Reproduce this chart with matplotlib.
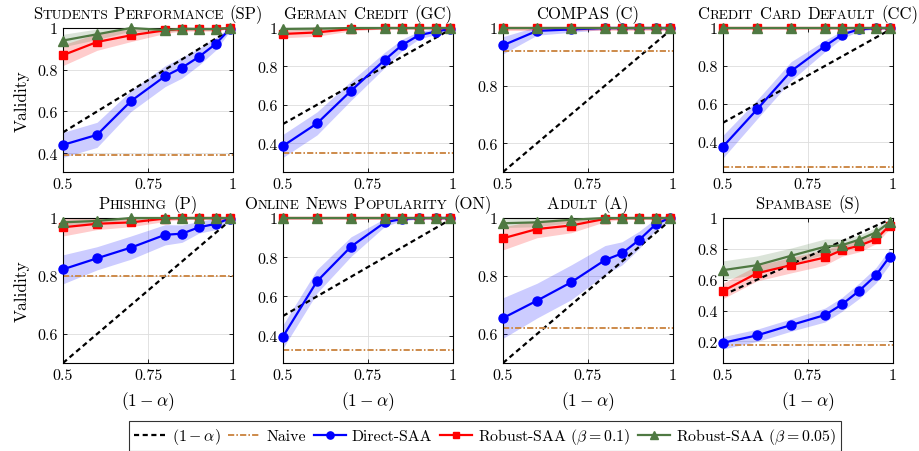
import matplotlib
matplotlib.use("Agg")
import matplotlib.pyplot as plt
from matplotlib import transforms

plt.rcParams['font.family'] = ['cmr10']
plt.rcParams['mathtext.fontset'] = 'cm'
plt.rcParams['axes.unicode_minus'] = False
plt.rcParams['axes.formatter.use_mathtext'] = True

alphas = [0.5, 0.6, 0.7, 0.8, 0.85, 0.9, 0.95, 0.99]
xtick_vals = [0.5, 0.75, 1.0]
xtick_labels = ['0.5', '0.75', '1']

titles = ['Students Performance (SP)', 'German Credit (GC)', 'COMPAS (C)',
          'Credit Card Default (CC)', 'Phishing (P)',
          'Online News Popularity (ON)', 'Adult (A)', 'Spambase (S)']
ymins = [0.31, 0.25, 0.5, 0.24, 0.5, 0.26, 0.5, 0.06]

# mean validity
sp_direct = [0.44, 0.488, 0.65, 0.769, 0.81, 0.862, 0.925, 0.994]
sp_r10 = [0.87, 0.933, 0.965, 0.989, 0.995, 0.995, 0.995, 1.0]
sp_r05 = [0.94, 0.97, 1.0, 0.99, 0.997, 0.995, 0.995, 1.0]
sp_naive = 0.39

gc_direct = [0.386, 0.503, 0.673, 0.835, 0.911, 0.963, 0.981, 0.995]
gc_r10 = [0.969, 0.977, 0.995, 1.0, 1.0, 1.0, 1.0, 1.0]
gc_r05 = [0.995, 0.997, 1.0, 1.0, 1.0, 1.0, 1.0, 1.0]
gc_naive = 0.351

c_direct = [0.94, 0.99, 0.995, 1.0, 1.0, 1.0, 1.0, 1.0]
c_r10 = [1.0, 1.0, 1.0, 1.0, 1.0, 1.0, 1.0, 1.0]
c_r05 = [1.0, 1.0, 1.0, 1.0, 1.0, 1.0, 1.0, 1.0]
c_naive = 0.921

cc_direct = [0.374, 0.57, 0.772, 0.905, 0.965, 0.993, 1.0, 1.0]
cc_r10 = [1.0, 1.0, 1.0, 1.0, 1.0, 1.0, 1.0, 1.0]
cc_r05 = [1.0, 1.0, 1.0, 1.0, 1.0, 1.0, 1.0, 1.0]
cc_naive = 0.269

p_direct = [0.823, 0.861, 0.898, 0.942, 0.946, 0.968, 0.98, 0.998]
p_r10 = [0.968, 0.98, 0.985, 0.998, 1.0, 1.0, 1.0, 1.0]
p_r05 = [0.985, 0.99, 1.0, 1.0, 1.0, 1.0, 1.0, 1.0]
p_naive = 0.8

on_direct = [0.395, 0.677, 0.854, 0.978, 0.995, 1.0, 1.0, 1.0]
on_r10 = [1.0, 1.0, 1.0, 1.0, 1.0, 1.0, 1.0, 1.0]
on_r05 = [1.0, 1.0, 1.0, 1.0, 1.0, 1.0, 1.0, 1.0]
on_naive = 0.327

a_direct = [0.655, 0.715, 0.778, 0.855, 0.878, 0.924, 0.979, 1.0]
a_r10 = [0.93, 0.962, 0.974, 0.997, 1.0, 1.0, 1.0, 1.0]
a_r05 = [0.982, 0.985, 0.994, 1.0, 1.0, 1.0, 1.0, 1.0]
a_naive = 0.619

s_direct = [0.191, 0.239, 0.306, 0.371, 0.44, 0.527, 0.629, 0.749]
s_r10 = [0.527, 0.642, 0.694, 0.744, 0.792, 0.82, 0.863, 0.95]
s_r05 = [0.662, 0.694, 0.755, 0.814, 0.824, 0.859, 0.907, 0.972]
s_naive = 0.174

# half-widths of the shaded bands
sp_direct_band = [0.06, 0.06, 0.05, 0.05, 0.05, 0.04, 0.03, 0.01]
sp_r10_band = [0.05, 0.04, 0.03, 0.015, 0.01, 0.01, 0.01, 0.005]
sp_r05_band = [0.03, 0.025, 0.015, 0.01, 0.01, 0.005, 0.005, 0.003]
gc_direct_band = [0.06, 0.06, 0.05, 0.04, 0.03, 0.02, 0.015, 0.005]
gc_r10_band = [0.02, 0.02, 0.01, 0.005, 0.005, 0.005, 0.005, 0.005]
gc_r05_band = [0.01, 0.01, 0.005, 0.005, 0.005, 0.005, 0.005, 0.005]
c_direct_band = [0.03, 0.015, 0.01, 0.005, 0.005, 0.005, 0.005, 0.005]
c_r10_band = [0.01, 0.01, 0.01, 0.01, 0.01, 0.01, 0.01, 0.01]
c_r05_band = [0.005, 0.005, 0.005, 0.005, 0.005, 0.005, 0.005, 0.005]
cc_direct_band = [0.06, 0.05, 0.05, 0.03, 0.02, 0.01, 0.005, 0.003]
cc_r10_band = [0.01, 0.01, 0.01, 0.01, 0.01, 0.01, 0.01, 0.01]
cc_r05_band = [0.005, 0.005, 0.005, 0.005, 0.005, 0.005, 0.005, 0.005]
p_direct_band = [0.05, 0.04, 0.04, 0.035, 0.03, 0.02, 0.02, 0.01]
p_r10_band = [0.03, 0.02, 0.015, 0.01, 0.005, 0.005, 0.005, 0.005]
p_r05_band = [0.01, 0.01, 0.005, 0.005, 0.005, 0.005, 0.005, 0.005]
on_direct_band = [0.06, 0.06, 0.05, 0.02, 0.01, 0.005, 0.005, 0.005]
on_r10_band = [0.01, 0.01, 0.01, 0.01, 0.01, 0.01, 0.01, 0.01]
on_r05_band = [0.005, 0.005, 0.005, 0.005, 0.005, 0.005, 0.005, 0.005]
a_direct_band = [0.07, 0.06, 0.06, 0.05, 0.04, 0.03, 0.02, 0.01]
a_r10_band = [0.04, 0.03, 0.025, 0.01, 0.005, 0.005, 0.005, 0.005]
a_r05_band = [0.015, 0.015, 0.01, 0.005, 0.005, 0.005, 0.005, 0.005]
s_direct_band = [0.04, 0.04, 0.04, 0.045, 0.045, 0.05, 0.05, 0.05]
s_r10_band = [0.05, 0.05, 0.05, 0.05, 0.04, 0.04, 0.03, 0.02]
s_r05_band = [0.06, 0.06, 0.05, 0.05, 0.04, 0.03, 0.03, 0.02]

panels = [
    (sp_direct, sp_r10, sp_r05, sp_naive, sp_direct_band, sp_r10_band, sp_r05_band),
    (gc_direct, gc_r10, gc_r05, gc_naive, gc_direct_band, gc_r10_band, gc_r05_band),
    (c_direct, c_r10, c_r05, c_naive, c_direct_band, c_r10_band, c_r05_band),
    (cc_direct, cc_r10, cc_r05, cc_naive, cc_direct_band, cc_r10_band, cc_r05_band),
    (p_direct, p_r10, p_r05, p_naive, p_direct_band, p_r10_band, p_r05_band),
    (on_direct, on_r10, on_r05, on_naive, on_direct_band, on_r10_band, on_r05_band),
    (a_direct, a_r10, a_r05, a_naive, a_direct_band, a_r10_band, a_r05_band),
    (s_direct, s_r10, s_r05, s_naive, s_direct_band, s_r10_band, s_r05_band),
]

BLUE = '#0000ff'
RED = '#ff0000'
GREEN = '#4f7942'
NAIVE = '#cd8a4a'

W, H = 919, 452
fig = plt.figure(figsize=(W / 100, H / 100), dpi=100)

col_x = [(63, 233), (283, 453), (503, 673), (723, 893)]
row_y = [(29, 173), (219, 364)]


def smallcaps_title(ax, text, size=12, ratio=0.8, pad=7):
    # fake small caps: draw runs of capitals / shrunk capitals one after another
    renderer = fig.canvas.get_renderer()
    runs = []
    for w, word in enumerate(text.split(' ')):
        if w > 0:
            runs.append((' ', None))
        cur, cur_small = '', None
        for ch in word:
            small = ch.islower()
            if cur and small != cur_small:
                runs.append((cur, cur_small))
                cur = ''
            cur += ch.upper() if small else ch
            cur_small = small
        if cur:
            runs.append((cur, cur_small))
    base = transforms.offset_copy(ax.transAxes, fig=fig, x=0, y=pad, units='points')
    artists = []
    offsets = []
    x = 0.0
    for s, small in runs:
        if small is None:
            x += 0.33 * size * fig.dpi / 72
            continue
        t = ax.text(0.5, 1.0, s, fontsize=size * ratio if small else size,
                    ha='left', va='baseline', transform=base)
        wid = t.get_window_extent(renderer).width
        artists.append(t)
        offsets.append(x)
        x += wid + 0.3
    total = x
    for t, off in zip(artists, offsets):
        t.set_transform(transforms.offset_copy(base, fig=fig, x=off - total / 2,
                                               y=0, units='dots'))


handles = None
for i, (direct, r10, r05, naive, db, rb, gb) in enumerate(panels):
    r, c = divmod(i, 4)
    x0, x1 = col_x[c]
    y0, y1 = row_y[r]
    ax = fig.add_axes([x0 / W, 1 - y1 / H, (x1 - x0) / W, (y1 - y0) / H])

    ax.fill_between(alphas, [v - e for v, e in zip(direct, db)],
                    [v + e for v, e in zip(direct, db)], color=BLUE, alpha=0.2, lw=0)
    ax.fill_between(alphas, [v - e for v, e in zip(r10, rb)],
                    [v + e for v, e in zip(r10, rb)], color=RED, alpha=0.2, lw=0)
    ax.fill_between(alphas, [v - e for v, e in zip(r05, gb)],
                    [v + e for v, e in zip(r05, gb)], color=GREEN, alpha=0.2, lw=0)

    h1, = ax.plot(alphas, alphas, ls=(0, (2.3, 1.6)), color='black', lw=1.6)
    h2, = ax.plot([0.5, 1.0], [naive, naive], ls=(0, (3.2, 1.1, 0.8, 1.1)),
                  color=NAIVE, lw=1.4)
    h3, = ax.plot(alphas, direct, '-o', color=BLUE, lw=1.6, ms=6.5, clip_on=False, zorder=4)
    h4, = ax.plot(alphas, r10, '-s', color=RED, lw=1.6, ms=6, clip_on=False, zorder=5)
    h5, = ax.plot(alphas, r05, '-^', color=GREEN, lw=1.6, ms=6.5, clip_on=False, zorder=6)
    handles = [h1, h2, h3, h4, h5]

    ax.set_xlim(0.5, 1.0)
    ax.set_ylim(ymins[i], 1.0)
    ax.set_xticks(xtick_vals)
    ax.set_xticklabels(xtick_labels)
    yt = [v / 10 for v in range(2, 11, 2) if v / 10 >= ymins[i] - 1e-9]
    ax.set_yticks(yt)
    ax.set_yticklabels(['1' if v == 1.0 else '%g' % v for v in yt])
    ax.tick_params(direction='in', top=True, right=True, length=3, width=0.6,
                   labelsize=11.5, pad=4)
    ax.grid(True, color='#dddddd', lw=0.6)
    ax.set_axisbelow(True)
    for sp in ax.spines.values():
        sp.set_linewidth(0.8)
    if c == 0:
        ax.set_ylabel('Validity', fontsize=12.5, labelpad=5)
    if r == 1:
        ax.set_xlabel(r'$(1-\alpha)$', fontsize=12.5, labelpad=5)
    smallcaps_title(ax, titles[i])

labels = [r'$(1-\alpha)$', 'Naive', 'Direct-SAA', r'Robust-SAA ($\beta=0.1$)',
          r'Robust-SAA ($\beta=0.05$)']
leg = fig.legend(handles, labels, loc='center', bbox_to_anchor=(0.528, 0.033),
                 ncol=5, frameon=True, fancybox=False, edgecolor='black',
                 fontsize=11.4, handlelength=2.0, handletextpad=0.4,
                 columnspacing=0.5, borderpad=0.3, markerscale=0.8)
leg.get_frame().set_linewidth(0.8)

fig.savefig('out.png', dpi=100)
